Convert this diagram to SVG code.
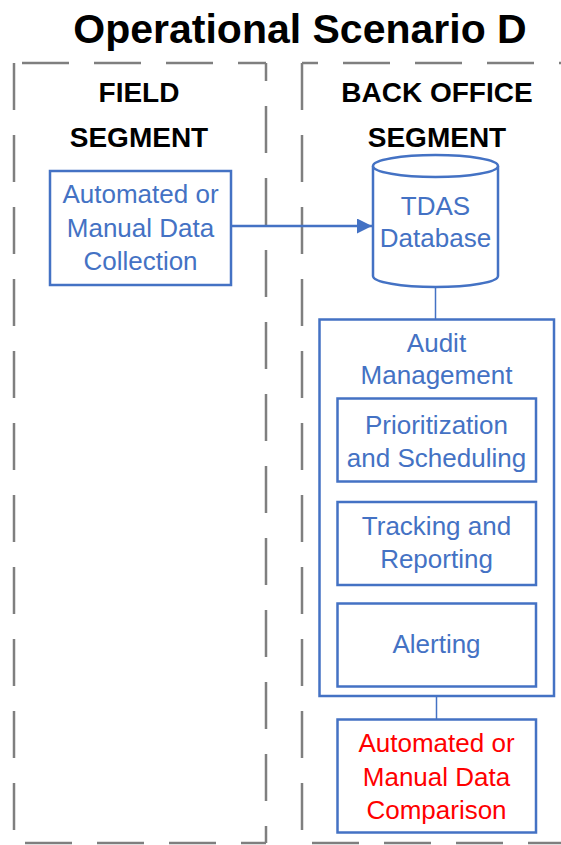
<svg xmlns="http://www.w3.org/2000/svg" width="561" height="845" viewBox="0 0 561 845">
<style>
  .seg{fill:none;stroke:#7f7f7f;stroke-width:2.5;stroke-dasharray:47 25}
  .box{fill:#fff;stroke:#4472c4;stroke-width:2.5}
  .t{font-family:"Liberation Sans",Arial,sans-serif;font-size:26px;fill:#4472c4;text-anchor:middle}
  .red{fill:#ff0000}
  .h{font-family:"Liberation Sans",Arial,sans-serif;font-weight:bold;fill:#000;text-anchor:middle}
  .conn{fill:none;stroke:#4472c4}
</style>
<defs>
  <marker id="ah" viewBox="0 0 10 10" refX="10" refY="5" markerWidth="6" markerHeight="6" markerUnits="strokeWidth" orient="auto">
    <path d="M0,0 L10,5 L0,10 z" fill="#4472c4"/>
  </marker>
</defs>
<rect width="561" height="845" fill="#fff"/>
<text class="h" x="300" y="43" font-size="41">Operational Scenario D</text>

<g id="field-segment">
  <path class="seg" d="M14,63 H266" stroke-dashoffset="64"/>
  <path class="seg" d="M266,63 V843" stroke-dashoffset="29"/>
  <path class="seg" d="M14,63 V843"/>
  <path class="seg" d="M14,843 H266" stroke-dashoffset="61"/>
  <text class="h" x="139" y="102" font-size="28">FIELD</text>
  <text class="h" x="139" y="147" font-size="28">SEGMENT</text>
</g>
<g id="back-office-segment">
  <path class="seg" d="M302,63 H561" stroke-dashoffset="31"/>
  <path class="seg" d="M302,63 V843"/>
  <path class="seg" d="M302,843 H561" stroke-dashoffset="62"/>
  <text class="h" x="437" y="102" font-size="28">BACK OFFICE</text>
  <text class="h" x="437" y="147" font-size="28">SEGMENT</text>
</g>

<g id="connectors">
  <line class="conn" x1="231" y1="226" x2="372" y2="226" stroke-width="2.5" marker-end="url(#ah)"/>
  <line class="conn" x1="435.5" y1="287" x2="435.5" y2="319" stroke-width="1.5"/>
  <line class="conn" x1="436.5" y1="696" x2="436.5" y2="719" stroke-width="1.5"/>
</g>

<g id="field-data-collection">
  <rect class="box" x="50" y="171" width="181" height="114"/>
  <text class="t" x="140.5" y="203">Automated or</text>
  <text class="t" x="140.5" y="237">Manual Data</text>
  <text class="t" x="140.5" y="270">Collection</text>
</g>

<g id="tdas-database">
  <path class="box" d="M373,166 V276 A62.5,11 0 0 0 498,276 V166 A62.5,11 0 0 0 373,166 Z"/>
  <path class="box" fill="none" d="M373,166 A62.5,11 0 0 0 498,166"/>
  <text class="t" x="435.5" y="215">TDAS</text>
  <text class="t" x="435.5" y="247">Database</text>
</g>

<g id="audit-management">
  <rect class="box" x="319.5" y="319.5" width="234.5" height="376.5"/>
  <text class="t" x="436.5" y="352">Audit</text>
  <text class="t" x="436.5" y="384">Management</text>
</g>
<g id="prioritization">
  <rect class="box" x="337.5" y="398.5" width="198.5" height="83"/>
  <text class="t" x="436.5" y="434">Prioritization</text>
  <text class="t" x="436.5" y="467">and Scheduling</text>
</g>
<g id="tracking">
  <rect class="box" x="337.5" y="502" width="198.5" height="83"/>
  <text class="t" x="436.5" y="535">Tracking and</text>
  <text class="t" x="436.5" y="568">Reporting</text>
</g>
<g id="alerting">
  <rect class="box" x="337.5" y="603.5" width="198.5" height="83"/>
  <text class="t" x="436.5" y="653">Alerting</text>
</g>
<g id="data-comparison">
  <rect class="box" x="337.5" y="719.5" width="198.5" height="113"/>
  <text class="t red" x="436.5" y="752">Automated or</text>
  <text class="t red" x="436.5" y="786">Manual Data</text>
  <text class="t red" x="436.5" y="819">Comparison</text>
</g>
</svg>
